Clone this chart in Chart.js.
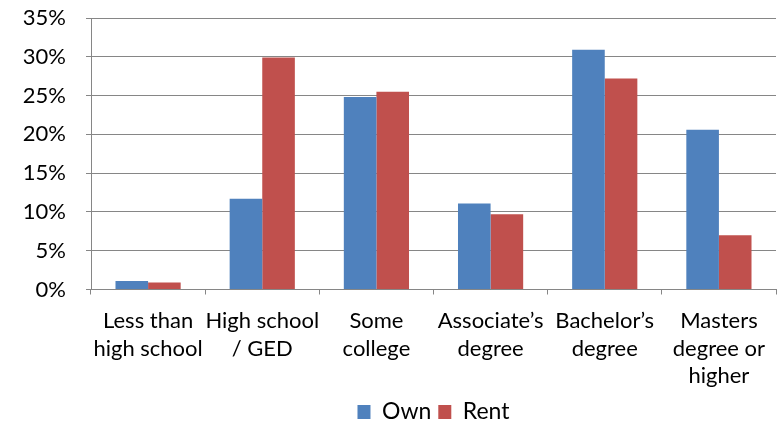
<!DOCTYPE html>
<html>
<head>
<meta charset="utf-8">
<style>
  html, body { margin: 0; padding: 0; background: #fff; }
  #wrap { width: 782px; height: 423px; }
</style>
<script src="https://cdn.jsdelivr.net/npm/chart.js@4/dist/chart.umd.min.js"></script>
</head>
<body>
<div id="wrap"><canvas id="eduChart" width="782" height="423"></canvas></div>
<script>
// Education level by tenure (share of households, %)
const categories = [
    ['Less than', 'high school'],
    ['High school', '/ GED'],
    ['Some', 'college'],
    ['Associate\u2019s', 'degree'],
    ['Bachelor\u2019s', 'degree'],
    ['Masters', 'degree or', 'higher']
];
const ownValues  = [1.1, 11.7, 24.8, 11.1, 30.9, 20.6];
const rentValues = [0.9, 29.9, 25.5, 9.7, 27.2, 7.0];
const yTicks     = [0, 5, 10, 15, 20, 25, 30, 35];

const fontFamily = 'Lato, "Open Sans", sans-serif';
const axisGray   = '#868686';

new Chart(document.getElementById('eduChart'), {
    type: 'bar',
    data: {
        labels: categories,
        datasets: [
            {
                label: 'Own',
                data : ownValues,
                backgroundColor: '#4F81BD',
                borderWidth: 0,
            },
            {
                label: 'Rent',
                data : rentValues,
                backgroundColor: '#C0504D',
                borderWidth: 0,
            }
        ]
    },
    options: {
        responsive: false,
        animation : false,
        // legend sits low, so the bottom padding is pulled in
        layout: { padding: { top: 18, right: 6, left: 0, bottom: -10.5 } },
        datasets: {
            bar: { categoryPercentage: 0.571, barPercentage: 1.0 }
        },
        plugins: {
            tooltip: { enabled: false },
            legend: {
                position: 'bottom',
                fullSize: false,
                labels: {
                    color    : '#000',
                    font     : { family: fontFamily, size: 23 },
                    boxWidth : 13,
                    boxHeight: 14,
                    padding  : 7,
                }
            }
        },
        scales: {
            x: {
                grid  : { offset: true, drawOnChartArea: false, color: axisGray, tickLength: 5 },
                border: { color: axisGray },
                ticks : {
                    color: '#000',
                    font : { family: fontFamily, size: 22, lineHeight: 1.25 },
                    maxRotation: 0,
                    autoSkip: false,
                    padding: 13,
                },
                afterFit: (scale) => { scale.height = 104; }
            },
            y: {
                min: 0,
                max: 35,
                afterBuildTicks: (scale) => { scale.ticks = yTicks.map(v => ({ value: v })); },
                grid  : { color: axisGray, tickLength: 5 },
                border: { color: axisGray },
                ticks : {
                    color: '#000',
                    font : { family: fontFamily, size: 22 },
                    padding: 20,
                    callback: (v) => v + '%',
                },
                afterFit: (scale) => {
                    scale.width = 91;
                    // tick padding is horizontal spacing only; don't let it push the plot down
                    scale.paddingTop = 0;
                    scale.paddingBottom = 0;
                }
            }
        }
    }
});
</script>
</body>
</html>
